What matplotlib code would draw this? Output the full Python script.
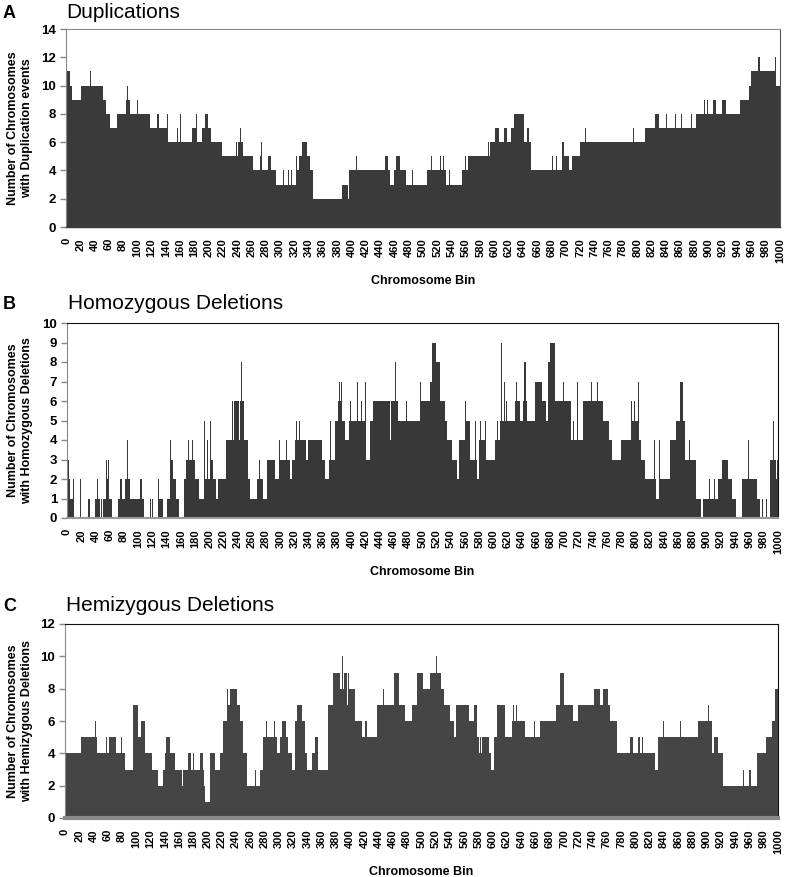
import matplotlib
matplotlib.use("Agg")
import matplotlib.pyplot as plt
import numpy as np

# (first bin of step, chromosome count)
duplications = [
    (0, 11), (6, 10), (9, 9), (21, 10), (34, 11), (35, 10), (52, 9), (56, 8), (61, 7), (71, 8),
    (84, 9), (86, 10), (87, 9), (89, 8), (100, 9), (101, 8), (110, 9), (111, 8), (118, 7), (128, 8),
    (130, 7), (141, 6), (142, 8), (143, 6), (156, 7), (157, 6), (160, 8), (161, 6), (177, 7), (182, 8),
    (183, 6), (191, 7), (195, 8), (199, 7), (203, 6), (211, 7), (212, 6), (218, 5), (232, 7), (233, 5),
    (238, 6), (239, 5), (241, 6), (244, 7), (245, 6), (248, 5), (262, 4), (272, 5), (273, 6), (274, 5),
    (275, 4), (283, 5), (287, 4), (294, 3), (298, 4), (299, 3), (304, 4), (305, 3), (311, 4), (312, 3),
    (315, 4), (316, 3), (322, 5), (323, 4), (327, 5), (330, 6), (337, 5), (342, 4), (346, 2), (361, 3),
    (362, 2), (386, 3), (395, 2), (397, 4), (400, 5), (401, 4), (406, 5), (407, 4), (424, 5), (425, 4),
    (447, 5), (451, 4), (454, 3), (459, 5), (460, 4), (462, 5), (468, 4), (476, 3), (477, 4), (478, 3),
    (484, 4), (486, 3), (505, 4), (511, 5), (512, 4), (524, 5), (525, 4), (528, 5), (529, 4), (532, 3),
    (537, 4), (538, 3), (554, 4), (559, 5), (560, 4), (563, 5), (591, 6), (592, 5), (594, 6), (601, 7),
    (607, 6), (613, 7), (617, 6), (623, 7), (628, 8), (642, 6), (645, 7), (648, 6), (651, 4), (681, 5),
    (682, 4), (686, 5), (687, 4), (695, 6), (697, 5), (704, 4), (708, 5), (720, 6), (727, 7), (728, 6),
    (794, 7), (795, 6), (811, 7), (825, 8), (830, 7), (841, 8), (842, 7), (853, 8), (854, 7), (862, 8),
    (863, 7), (868, 8), (869, 7), (876, 8), (877, 7), (882, 8), (894, 9), (895, 8), (898, 9), (899, 8),
    (906, 9), (911, 8), (919, 9), (925, 8), (944, 9), (957, 10), (960, 11), (969, 12), (972, 11), (977, 12),
    (978, 11), (993, 12), (994, 10), (998, 11), (999, 10),
]

homozygous = [
    (0, 2), (2, 3), (3, 2), (4, 1), (8, 2), (10, 0), (18, 2), (19, 0), (22, 1), (23, 0),
    (30, 1), (32, 0), (39, 1), (42, 2), (43, 1), (46, 0), (48, 1), (49, 0), (51, 1), (55, 3),
    (56, 2), (58, 3), (59, 1), (63, 0), (72, 1), (75, 2), (78, 1), (82, 2), (85, 4), (86, 2),
    (89, 1), (102, 2), (105, 1), (108, 0), (117, 1), (118, 0), (120, 1), (121, 0), (128, 2), (130, 1),
    (135, 0), (140, 1), (145, 4), (146, 3), (149, 2), (150, 4), (151, 2), (153, 1), (158, 0), (164, 2),
    (168, 3), (170, 4), (171, 3), (176, 4), (177, 3), (180, 2), (185, 1), (192, 2), (193, 5), (194, 2),
    (197, 4), (198, 2), (201, 5), (202, 3), (206, 2), (209, 1), (213, 2), (224, 4), (232, 6), (233, 4),
    (235, 6), (242, 4), (244, 6), (245, 8), (246, 6), (249, 4), (250, 8), (251, 4), (254, 2), (257, 1),
    (267, 2), (270, 3), (271, 2), (276, 1), (281, 3), (293, 2), (295, 3), (296, 2), (298, 4), (299, 2),
    (300, 3), (308, 4), (309, 3), (314, 2), (317, 3), (321, 4), (322, 5), (323, 4), (327, 5), (328, 4),
    (336, 3), (339, 4), (351, 6), (352, 4), (358, 3), (363, 2), (368, 3), (370, 5), (371, 3), (377, 5),
    (381, 6), (383, 7), (384, 6), (386, 7), (387, 5), (391, 4), (396, 5), (398, 6), (399, 5), (408, 7),
    (409, 5), (414, 6), (415, 5), (419, 7), (420, 5), (421, 3), (426, 5), (431, 6), (434, 8), (435, 6),
    (454, 4), (456, 6), (462, 8), (463, 6), (465, 5), (477, 6), (478, 5), (497, 7), (498, 6), (510, 7),
    (514, 9), (519, 8), (525, 6), (532, 5), (535, 4), (542, 3), (549, 2), (551, 4), (560, 6), (561, 5),
    (567, 3), (574, 5), (575, 3), (577, 2), (580, 4), (581, 5), (582, 4), (588, 5), (589, 3), (593, 7),
    (594, 3), (602, 4), (605, 5), (606, 4), (609, 5), (611, 9), (612, 5), (614, 7), (616, 5), (618, 6),
    (619, 5), (624, 8), (625, 5), (630, 6), (631, 7), (633, 6), (637, 5), (641, 6), (643, 8), (645, 6),
    (647, 5), (658, 7), (668, 6), (674, 5), (677, 8), (679, 9), (687, 6), (698, 7), (699, 6), (709, 4),
    (712, 5), (713, 4), (718, 7), (719, 4), (726, 6), (737, 7), (738, 6), (742, 7), (743, 6), (746, 7),
    (747, 6), (754, 5), (763, 4), (767, 3), (776, 4), (777, 3), (779, 4), (793, 6), (794, 5), (798, 6),
    (799, 5), (803, 7), (804, 4), (808, 3), (813, 2), (826, 4), (827, 2), (829, 1), (833, 4), (834, 2),
    (848, 4), (857, 5), (862, 7), (867, 5), (869, 3), (875, 4), (876, 3), (885, 1), (891, 0), (895, 1),
    (897, 2), (898, 1), (903, 2), (904, 1), (910, 2), (911, 1), (915, 3), (916, 2), (921, 3), (929, 2),
    (935, 1), (941, 0), (949, 2), (953, 3), (954, 2), (958, 4), (959, 2), (967, 4), (968, 2), (970, 1),
    (975, 0), (978, 1), (979, 0), (983, 1), (984, 0), (989, 3), (993, 5), (994, 3), (997, 2), (999, 3),
]

hemizygous = [
    (0, 4), (23, 5), (26, 6), (27, 5), (42, 6), (43, 5), (45, 4), (58, 5), (59, 4), (62, 5),
    (71, 4), (79, 5), (80, 4), (84, 3), (95, 7), (103, 5), (106, 6), (112, 4), (122, 3), (131, 2),
    (138, 3), (140, 4), (142, 5), (147, 4), (154, 3), (164, 2), (165, 3), (173, 4), (177, 3), (180, 4),
    (181, 3), (189, 4), (193, 3), (195, 2), (196, 1), (203, 4), (210, 3), (217, 4), (222, 6), (227, 8),
    (228, 7), (231, 8), (241, 7), (245, 6), (250, 4), (255, 2), (267, 3), (268, 2), (273, 3), (278, 5),
    (282, 6), (283, 5), (293, 6), (294, 5), (297, 4), (301, 5), (305, 6), (310, 5), (313, 4), (318, 3),
    (322, 6), (326, 7), (332, 6), (337, 4), (339, 3), (346, 4), (351, 5), (355, 3), (357, 4), (358, 3),
    (369, 7), (376, 9), (386, 8), (389, 10), (390, 8), (392, 9), (395, 7), (397, 9), (398, 8), (407, 6),
    (416, 5), (421, 6), (423, 5), (437, 7), (446, 8), (447, 7), (461, 9), (469, 7), (477, 6), (486, 7),
    (493, 9), (502, 8), (512, 9), (521, 10), (522, 9), (528, 8), (531, 7), (540, 6), (545, 5), (549, 7),
    (566, 6), (573, 7), (578, 5), (580, 4), (582, 5), (583, 4), (585, 5), (594, 4), (598, 3), (602, 5),
    (606, 7), (617, 5), (627, 6), (628, 9), (629, 7), (630, 6), (632, 7), (634, 6), (645, 5), (658, 6),
    (659, 5), (666, 6), (689, 7), (694, 9), (700, 7), (713, 6), (720, 7), (736, 9), (737, 7), (742, 8),
    (751, 7), (754, 8), (761, 7), (765, 6), (774, 4), (792, 5), (797, 4), (804, 5), (807, 4), (809, 5),
    (811, 4), (827, 3), (832, 5), (839, 6), (840, 5), (863, 6), (864, 5), (888, 6), (902, 7), (903, 6),
    (907, 4), (910, 5), (916, 4), (923, 2), (951, 3), (953, 2), (960, 3), (962, 2), (970, 4), (983, 5),
    (991, 6), (996, 8),
]

n_bins = 1000
x_ticks = list(range(0, 1001, 20))

plt.rcParams.update({
    "font.family": ["Liberation Sans", "DejaVu Sans"],
    "font.weight": "bold",
})

W, H = 789, 877
fig = plt.figure(figsize=(W / 100, H / 100), dpi=100)


def px_axes(left, top, right, bottom):
    return fig.add_axes([left / W, 1 - bottom / H, (right - left) / W, (bottom - top) / H])


def draw_panel(ax, steps, color, ymax, ystep, top_col, side_col, bottom_col, bottom_lw):
    starts = [s for s, _ in steps]
    counts = [c for _, c in steps]
    edges = starts + [n_bins]
    ax.stairs(counts, edges, fill=True, color=color, lw=0, baseline=0)
    ax.set_xlim(0, n_bins)
    ax.set_ylim(0, ymax)
    ax.set_yticks(np.arange(0, ymax + 0.1, ystep))
    ax.set_xticks(x_ticks)
    ax.set_xticklabels([str(t) for t in x_ticks], rotation=90, fontsize=8,
                       fontweight="bold")
    for lab in ax.get_yticklabels():
        lab.set_fontsize(9.5)
        lab.set_fontweight("bold")
    ax.tick_params(axis="x", length=0, pad=8)
    ax.tick_params(axis="y", length=4, width=1, color="#888888", pad=3)
    ax.spines["top"].set_color(top_col)
    ax.spines["right"].set_color(side_col)
    ax.spines["left"].set_color("#888888")
    ax.spines["bottom"].set_color(bottom_col)
    ax.spines["bottom"].set_linewidth(bottom_lw)
    ax.spines["bottom"].set_zorder(3)
    ax.set_xlabel("Chromosome Bin", fontsize=9, fontweight="bold", labelpad=9)


def panel_title(letter, title, x, baseline):
    fig.text(3 / W, 1 - baseline / H, letter, fontsize=13, fontweight="bold",
             va="baseline", ha="left")
    fig.text(x / W, 1 - baseline / H, title, fontsize=15, fontweight="normal",
             va="baseline", ha="left")


def y_label(text, top, bottom):
    fig.text(20 / W, 1 - (top + bottom) / 2 / H, text, rotation=90, fontsize=9,
             fontweight="bold", ha="center", va="center", linespacing=1.15)


# Panel A
ax = px_axes(66, 29, 780, 227)
draw_panel(ax, duplications, "#3a3a3a", 14, 2, "#8c8c8c", "#555555", "#3a3a3a", 1)
panel_title("A", "Duplications", 66, 17.5)
y_label("Number of Chromosomes\nwith Duplication events", 29, 227)

# Panel B
ax = px_axes(67, 323, 778, 518)
draw_panel(ax, homozygous, "#383838", 10, 1, "#111111", "#111111", "#999999", 1.5)
panel_title("B", "Homozygous Deletions", 68, 309)
y_label("Number of Chromosomes\nwith Homozygous Deletions", 323, 518)

# Panel C
ax = px_axes(65, 624, 778, 818)
draw_panel(ax, hemizygous, "#454545", 12, 2, "#111111", "#111111", "#8a8a8a", 3)
panel_title("C", "Hemizygous Deletions", 66, 611)
y_label("Number of Chromosomes\nwith Hemizygous Deletions", 624, 818)

fig.savefig("out.png", dpi=100)
